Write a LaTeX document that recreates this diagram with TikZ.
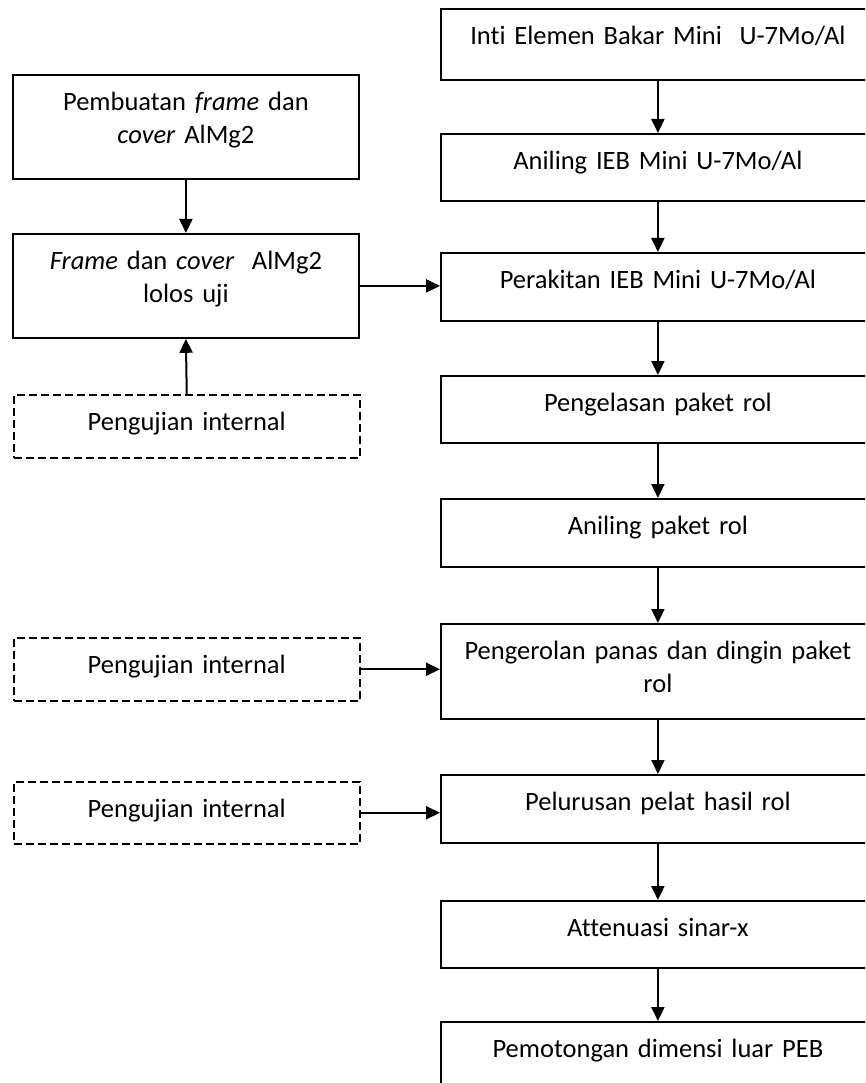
\documentclass[tikz,border=0pt]{standalone}
\usepackage{fontspec}
\setmainfont{Carlito}[Ligatures=NoCommon]
\usetikzlibrary{arrows.meta}

\begin{document}
\begin{tikzpicture}[x=1pt, y=-1pt,
  box/.style={draw, line width=1.8pt, anchor=north west, inner sep=0pt, align=center,
    text height=36pt, font=\fontsize{26.5}{33}\selectfont},
  rbox/.style={box, text width=434pt},
  lbox/.style={box, text width=346pt},
  testbox/.style={lbox, line width=1.5pt, dash pattern=on 8pt off 4pt},
  arr/.style={-{Triangle[length=14pt,width=13pt]}, line width=2pt}]
  \useasboundingbox (0,0) rectangle (865,1083);
  \clip (0,0) rectangle (865,1083);

  \node[rbox, text depth=35pt] (inti) at (440,8) {Inti Elemen Bakar Mini\ \ U-7Mo/Al};
  \node[rbox, text depth=31pt] (anil1) at (440,133) {Aniling IEB Mini U-7Mo/Al};
  \node[rbox, text depth=32pt] (rakit) at (440,252) {Perakitan IEB Mini U-7Mo/Al};
  \node[rbox, text depth=31pt] (las) at (440,375) {Pengelasan paket rol};
  \node[rbox, text depth=32pt] (anil2) at (440,498) {Aniling paket rol};
  \node[rbox, text depth=59pt] (rol) at (440,623) {Pengerolan panas dan dingin paket\\ rol};
  \node[rbox, text depth=32pt] (lurus) at (440,774) {Pelurusan pelat hasil rol};
  \node[rbox, text depth=31pt] (atten) at (440,900) {Attenuasi sinar-x};
  \node[rbox, text depth=32pt] (potong) at (440,1021) {Pemotongan dimensi luar PEB};

  \node[lbox, text depth=68pt] (buat) at (12,74) {Pembuatan \textit{frame} dan\\ \textit{cover} AlMg2};
  \node[lbox, text depth=68pt] (frame) at (12,233) {\textit{Frame} dan \textit{cover}\ \ AlMg2\\ lolos uji};
  \node[testbox, text depth=27pt] (uji1) at (13,394) {Pengujian internal};
  \node[testbox, text depth=27pt] (uji2) at (13,637) {Pengujian internal};
  \node[testbox, text depth=26pt] (uji3) at (13,781) {Pengujian internal};

  \draw[arr] (inti.south) -- (anil1.north);
  \draw[arr] (anil1.south) -- (rakit.north);
  \draw[arr] (rakit.south) -- (las.north);
  \draw[arr] (las.south) -- (anil2.north);
  \draw[arr] (anil2.south) -- (rol.north);
  \draw[arr] (rol.south) -- (lurus.north);
  \draw[arr] (lurus.south) -- (atten.north);
  \draw[arr] (atten.south) -- (potong.north);

  \draw[arr] (buat.south) -- (frame.north);
  \draw[arr] (uji1.north) -- (frame.south);
  \draw[arr] (frame.east) -- (frame.east -| rakit.west);
  \draw[arr] (uji2.east) -- (uji2.east -| rol.west);
  \draw[arr] (uji3.east) -- (uji3.east -| lurus.west);
\end{tikzpicture}
\end{document}
